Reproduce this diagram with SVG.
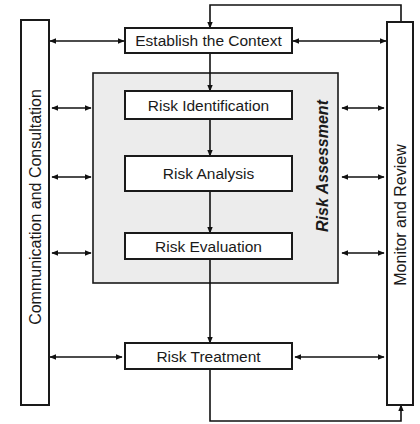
<svg xmlns="http://www.w3.org/2000/svg" width="420" height="424" viewBox="0 0 420 424">
<defs>
<marker id="ah" viewBox="0 0 10 10" refX="9" refY="5" markerWidth="7" markerHeight="7" markerUnits="userSpaceOnUse" orient="auto-start-reverse">
<path d="M0,1 L10,5 L0,9 Z" fill="#111"/>
</marker>
<style>
.box{fill:#fff;stroke:#1a1a1a;stroke-width:2}
.lbl{font-family:"Liberation Sans",Arial,sans-serif;font-size:15.5px;fill:#1a1a1a;text-anchor:middle}
.vlbl{font-family:"Liberation Sans",Arial,sans-serif;font-size:16px;fill:#1a1a1a;text-anchor:middle}
.ln{fill:none;stroke:#111;stroke-width:1.6}
.dbl{fill:none;stroke:#111;stroke-width:1.6;marker-start:url(#ah);marker-end:url(#ah)}
.one{fill:none;stroke:#111;stroke-width:1.6;marker-end:url(#ah)}
</style>
</defs>
<rect width="420" height="424" fill="#fff"/>
<g id="risk-assessment">
<rect x="93" y="73" width="245" height="210" fill="#ececec" stroke="#1a1a1a" stroke-width="1.6"/>
<text class="vlbl" transform="translate(322,166) rotate(-90)" y="5.5" style="font-weight:bold;font-style:italic">Risk Assessment</text>
</g>
<g id="connectors">
<polyline class="one" points="401,22 401,5 210,5 210,28"/>
<line class="one" x1="210" y1="53" x2="210" y2="91"/>
<line class="one" x1="210" y1="119" x2="210" y2="156"/>
<line class="one" x1="210" y1="191" x2="210" y2="233"/>
<line class="one" x1="210" y1="259" x2="210" y2="343"/>
<polyline class="one" points="210,369 210,421 401,421 401,405"/>
<line class="dbl" x1="50" y1="41" x2="124" y2="41"/>
<line class="dbl" x1="293" y1="41" x2="386" y2="41"/>
<line class="dbl" x1="52" y1="108" x2="91" y2="108"/>
<line class="dbl" x1="342" y1="108" x2="384" y2="108"/>
<line class="dbl" x1="52" y1="177" x2="91" y2="177"/>
<line class="dbl" x1="342" y1="177" x2="384" y2="177"/>
<line class="dbl" x1="52" y1="253" x2="91" y2="253"/>
<line class="dbl" x1="342" y1="253" x2="384" y2="253"/>
<line class="dbl" x1="50" y1="357" x2="122" y2="357"/>
<line class="dbl" x1="295" y1="357" x2="384" y2="357"/>
</g>
<g id="communication">
<rect class="box" x="21" y="20" width="28" height="385"/>
<text class="vlbl" transform="translate(35,207) rotate(-90)" y="5.5">Communication and Consultation</text>
</g>
<g id="monitor">
<rect class="box" x="387" y="22" width="26" height="383"/>
<text class="vlbl" transform="translate(400,215) rotate(-90)" y="5.5">Monitor and Review</text>
</g>
<g id="establish">
<rect class="box" x="125" y="28" width="167" height="25"/>
<text class="lbl" x="208.5" y="46">Establish the Context</text>
</g>
<g id="identification">
<rect class="box" x="125" y="91" width="167" height="28"/>
<text class="lbl" x="208.5" y="110.5">Risk Identification</text>
</g>
<g id="analysis">
<rect class="box" x="125" y="156" width="167" height="35"/>
<text class="lbl" x="208.5" y="179">Risk Analysis</text>
</g>
<g id="evaluation">
<rect class="box" x="125" y="233" width="167" height="26"/>
<text class="lbl" x="208.5" y="251.5">Risk Evaluation</text>
</g>
<g id="treatment">
<rect class="box" x="125" y="343" width="167" height="26"/>
<text class="lbl" x="208.5" y="361.5">Risk Treatment</text>
</g>
</svg>
